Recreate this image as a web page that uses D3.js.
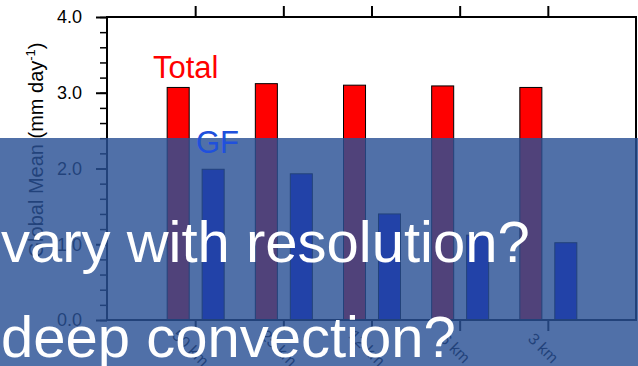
<!DOCTYPE html>
<html>
<head>
<meta charset="utf-8">
<script src="https://cdn.jsdelivr.net/npm/d3@7"></script>
<style>
  body { margin: 0; background: #fff; }
  svg { display: block; font-family: "Liberation Sans", Arial, Helvetica, sans-serif; }
</style>
</head>
<body>
<script>
const width = 638;
const height = 366;
const margin = {top: 17, right: 2, bottom: 46, left: 107};

const resolutions = ["50 km", "25 km", "12 km", "6 km", "3 km"];
const totalPrecip = [3.07, 3.12, 3.10, 3.09, 3.07];
const gfPrecip = [1.99, 1.93, 1.40, 1.12, 1.02];
const yMajorTicks = [0, 1, 2, 3, 4];
const yMinorTicks = d3.range(0, 4.01, 0.2);
const question1 = "vary with resolution?";
const question2 = "deep convection?";

const svg = d3.select("body").append("svg")
    .attr("width", width)
    .attr("height", height);

svg.append("rect")
    .attr("width", width)
    .attr("height", height)
    .attr("fill", "#fff");

const x = d3.scalePoint()
    .domain(resolutions)
    .range([margin.left, width - margin.right])
    .padding(1);

const y = d3.scaleLinear()
    .domain([0, 4])
    .range([height - margin.bottom, margin.top]);

const sub = d3.scaleBand()
    .domain(["total", "gf"])
    .range([-28, 29])
    .paddingInner(0.37);

// bars
const rows = resolutions.map((r, i) => ({name: r, total: totalPrecip[i], gf: gfPrecip[i]}));

svg.selectAll(".bar-total")
    .data(rows)
    .join("rect")
    .attr("class", "bar-total")
    .attr("x", d => x(d.name) + sub("total"))
    .attr("y", d => y(d.total))
    .attr("width", sub.bandwidth())
    .attr("height", d => y(0) - y(d.total))
    .attr("fill", "#ff0000")
    .attr("stroke", "#000")
    .attr("stroke-width", 1);

svg.selectAll(".bar-gf")
    .data(rows)
    .join("rect")
    .attr("class", "bar-gf")
    .attr("x", d => x(d.name) + sub("gf"))
    .attr("y", d => y(d.gf))
    .attr("width", sub.bandwidth())
    .attr("height", d => y(0) - y(d.gf))
    .attr("fill", "#0000ff")
    .attr("stroke", "#000")
    .attr("stroke-width", 1);

// frame
svg.append("rect")
    .attr("x", margin.left)
    .attr("y", margin.top)
    .attr("width", width - margin.right - margin.left)
    .attr("height", y(0) - margin.top)
    .attr("fill", "none")
    .attr("stroke", "#000")
    .attr("stroke-width", 2);

// y axis, minor then major
svg.append("g")
    .attr("transform", `translate(${margin.left},0)`)
    .call(d3.axisLeft(y).tickValues(yMinorTicks).tickSize(7).tickFormat(""))
    .call(g => g.select(".domain").remove())
    .call(g => g.selectAll("line").attr("stroke-width", 1.5));

const yAxis = svg.append("g")
    .attr("transform", `translate(${margin.left},0)`)
    .call(d3.axisLeft(y).tickValues(yMajorTicks).tickSize(11).tickPadding(14).tickFormat(d3.format(".1f")));
yAxis.select(".domain").remove();
yAxis.selectAll("line").attr("stroke-width", 2);
yAxis.selectAll("text")
    .attr("font-size", 18)
    .attr("font-family", "Liberation Sans, Arial, sans-serif")
    .attr("fill", "#000");

// x axes top and bottom
const xTop = svg.append("g")
    .attr("transform", `translate(0,${margin.top})`)
    .call(d3.axisTop(x).tickSize(11).tickFormat(""));
xTop.select(".domain").remove();
xTop.selectAll("line").attr("stroke-width", 2);

const xBottom = svg.append("g")
    .attr("transform", `translate(0,${y(0)})`)
    .call(d3.axisBottom(x).tickSize(11));
xBottom.select(".domain").remove();
xBottom.selectAll("line").attr("stroke-width", 2);
xBottom.selectAll("text")
    .attr("font-size", 16)
    .attr("font-family", "Liberation Sans, Arial, sans-serif")
    .attr("fill", "#000")
    .attr("text-anchor", "middle")
    .attr("y", 0)
    .attr("dy", "0.35em")
    .attr("transform", "translate(-5,28) rotate(45)");

// y axis title
const yTitle = svg.append("text")
    .attr("transform", `translate(43,150) rotate(-90)`)
    .attr("text-anchor", "middle")
    .attr("font-size", 20)
    .attr("fill", "#000");
yTitle.append("tspan").text("Global Mean (mm day");
yTitle.append("tspan").attr("font-size", 13).attr("dy", -8).text("-1");
yTitle.append("tspan").attr("dy", 8).text(")");

// legend label
svg.append("text")
    .attr("x", 153)
    .attr("y", y(3.2))
    .attr("font-size", 31)
    .attr("fill", "#ff0000")
    .text("Total");

// overlay
svg.append("rect")
    .attr("x", 0)
    .attr("y", 138)
    .attr("width", width)
    .attr("height", height - 138)
    .attr("fill", "rgb(41,80,149)")
    .attr("fill-opacity", 0.82);

svg.append("text")
    .attr("x", 196)
    .attr("y", y(2.2))
    .attr("font-size", 31)
    .attr("fill", "#2050dc")
    .text("GF");

svg.append("text")
    .attr("x", 1)
    .attr("y", 262)
    .attr("font-size", 58)
    .attr("fill", "#fff")
    .text(question1);

svg.append("text")
    .attr("x", 1)
    .attr("y", 357)
    .attr("font-size", 58)
    .attr("fill", "#fff")
    .text(question2);
</script>
</body>
</html>
